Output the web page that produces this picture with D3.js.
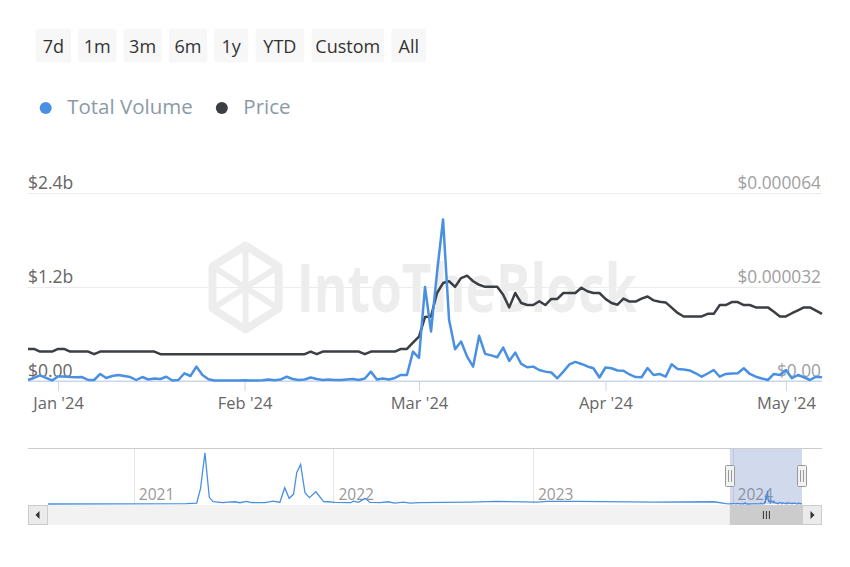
<!DOCTYPE html>
<html>
<head>
<meta charset="utf-8">
<title>Total Volume and Price</title>
<script src="https://cdn.jsdelivr.net/npm/d3@7"></script>
<style>
body { margin: 0; background: #fff; font-family: 'Open Sans', sans-serif; }
svg { display: block; }
</style>
</head>
<body>
<div id="chart"></div>
<script>

// ---- data ----
var rangeButtons = ["7d", "1m", "3m", "6m", "1y", "YTD", "Custom", "All"];
var seriesNames = ["Total Volume", "Price"];

// one value per day, starting 2023-12-27
var firstDay = "2023-12-27";

// total volume, millions of USD
var volumeM = [
  9, 35, 67, 35, 3, 54, 54, 47, 44, 47,
  9, 9, 86, 35, 60, 73, 60, 47, 9, 47,
  15, 28, 22, 51, 3, 9, 95, 60, 180, 73,
  18, 3, 3, 3, 3, 3, 5, 3, 3, 5,
  15, 5, 15, 51, 22, 9, 15, 41, 22, 9,
  15, 9, 9, 15, 22, 9, 28, 116, 15, 28,
  15, 35, 73, 73, 372, 291, 1199, 629, 1382, 2062,
  779, 403, 501, 308, 180, 574, 343, 324, 300, 424,
  253, 359, 214, 172, 180, 137, 116, 105, 31, 116,
  208, 240, 214, 182, 159, 41, 169, 159, 131, 128,
  80, 47, 44, 163, 73, 86, 51, 210, 150, 144,
  131, 95, 51, 92, 137, 51, 86, 92, 95, 159,
  86, 51, 28, 9, 86, 73, 137, 31, 73, 44,
  9, 51, 44
];

// price, millionths of USD
var priceU = [
  10.85, 10.85, 9.92, 9.92, 9.92, 10.85, 10.85, 9.92, 9.92, 9.92,
  9.92, 9.03, 9.92, 9.92, 9.92, 9.92, 9.92, 9.92, 9.92, 9.92,
  9.92, 9.92, 9.03, 9.03, 9.03, 9.03, 9.03, 9.03, 9.03, 9.03,
  9.03, 9.03, 9.03, 9.03, 9.03, 9.03, 9.03, 9.03, 9.03, 9.03,
  9.03, 9.03, 9.03, 9.03, 9.03, 9.03, 9.03, 9.92, 9.03, 9.92,
  9.92, 9.92, 9.92, 9.92, 9.92, 9.92, 9.03, 9.92, 9.92, 9.92,
  9.92, 9.92, 10.85, 10.85, 13.0, 15.06, 21.7, 21.9, 29.9, 33.3,
  33.9, 32.0, 35.0, 35.8, 33.9, 32.7, 32.0, 32.0, 32.0, 29.3,
  25.0, 29.9, 26.5, 25.8, 25.8, 27.1, 25.8, 27.9, 27.9, 29.9,
  29.9, 29.9, 31.7, 30.5, 29.9, 29.9, 27.9, 26.5, 25.9, 28.0,
  27.0, 27.0, 28.0, 28.7, 27.4, 26.9, 26.7, 24.9, 23.1, 21.9,
  21.9, 21.9, 21.9, 22.8, 22.8, 25.8, 25.8, 26.8, 26.8, 25.8,
  25.8, 25.0, 25.0, 25.0, 23.5, 21.9, 21.9, 23.0, 24.0, 25.0,
  25.0, 23.9, 22.8
];

// longer volume history shown in the navigator, billions of USD
var historyDates = [
  "2020-07-28", "2021-04-07", "2021-04-26", "2021-05-03", "2021-05-11", "2021-05-19",
  "2021-05-26", "2021-06-04", "2021-06-13", "2021-06-22", "2021-07-05", "2021-07-14",
  "2021-07-26", "2021-08-04", "2021-08-29", "2021-09-13", "2021-09-25", "2021-10-04",
  "2021-10-12", "2021-10-20", "2021-10-26", "2021-11-02", "2021-11-10", "2021-11-18",
  "2021-11-30", "2021-12-14", "2021-12-23", "2022-01-04", "2022-02-01", "2022-02-07",
  "2022-02-16", "2022-02-28", "2022-03-09", "2022-03-27", "2022-04-11", "2022-04-23",
  "2022-05-09", "2022-05-21", "2022-06-08", "2022-09-08", "2022-10-27", "2023-01-08",
  "2023-01-27", "2023-03-19", "2023-08-10", "2023-11-28", "2023-12-20"
];
var historyVolumeB = [
  0, 0.05, 0.15, 2.43, 7.95, 1.04,
  0.36, 0.3, 0.2, 0.3, 0.35, 0.2,
  0.4, 0.2, 0.2, 0.45, 0.25, 2.53,
  0.88, 1.5, 4.91, 6.15, 1.75, 0.98,
  1.9, 0.36, 0.35, 0.25, 0.2, 0.45,
  0.25, 0.88, 0.25, 0.2, 0.35, 0.15,
  0.3, 0.15, 0.2, 0.3, 0.4, 0.3,
  0.4, 0.4, 0.3, 0.35, 0.05
];

var leftTicks = [0, 1.2e9, 2.4e9];
var leftTickLabels = ["$0.00", "$1.2b", "$2.4b"];
var rightTicks = [0, 32e-6, 64e-6];
var rightTickLabels = ["$0.00", "$0.000032", "$0.000064"];
var monthTicks = ["2024-01-01", "2024-02-01", "2024-03-01", "2024-04-01", "2024-05-01"];
var yearTicks = ["2021-01-01", "2022-01-01", "2023-01-01", "2024-01-01"];

// ---- layout ----
var width = 850, height = 567;
var plotLeft = 28, plotRight = 822, plotTop = 193, plotBottom = 380.7;
var navTop = 448, navBottom = 504, scrollTop = 505, scrollBottom = 525, btnW = 20;
var blue = "#4a90e2", dark = "#3b3f43";
var buttonWidths = [35.3, 38, 38, 38, 34, 48.7, 72.6, 34.7];

var parse = d3.utcParse("%Y-%m-%d");
var start = parse(firstDay);
var days = volumeM.map(function(v, i) { return d3.utcDay.offset(start, i); });
var main = days.map(function(d, i) { return {date: d, vol: volumeM[i] * 1e6, price: priceU[i] * 1e-6}; });
var nav = historyDates.map(function(s, i) { return {date: parse(s), vol: historyVolumeB[i] * 1e9}; })
  .concat(main.map(function(d) { return {date: d.date, vol: d.vol}; }));

var svg = d3.select("#chart").append("svg")
  .attr("width", width)
  .attr("height", height);

// range buttons
var bx = 35.7;
var btns = svg.append("g").attr("class", "buttons");
rangeButtons.forEach(function(label, i) {
  var w = buttonWidths[i];
  btns.append("rect")
    .attr("x", bx).attr("y", 28.5)
    .attr("width", w).attr("height", 34)
    .attr("rx", 2)
    .style("fill", "#f7f7f7");
  btns.append("text")
    .attr("x", bx + w / 2).attr("y", 52.5)
    .attr("text-anchor", "middle")
    .style("font-size", "18px")
    .style("fill", "#333")
    .text(label);
  bx += w + 7.3;
});

// legend
var legend = svg.append("g");
var lx = 45.7;
[blue, dark].forEach(function(c, i) {
  legend.append("circle").attr("cx", lx).attr("cy", 108).attr("r", 6).style("fill", c);
  var t = legend.append("text")
    .attr("x", lx + 21.5).attr("y", 113.5)
    .style("font-size", "20.5px")
    .style("fill", "#8c9aa6")
    .text(seriesNames[i]);
  lx += 21.5 + t.node().getComputedTextLength() + 29;
});

// scales
var x = d3.scaleUtc()
  .domain([start, days[days.length - 1]])
  .range([plotLeft, plotRight]);
var yVol = d3.scaleLinear().domain([0, 2.4e9]).range([plotBottom, plotTop]);
var yPrice = d3.scaleLinear().domain([0, 64e-6]).range([plotBottom, plotTop]);

// grid
svg.append("g").selectAll("line")
  .data(leftTicks.slice(1))
  .enter().append("line")
  .attr("x1", plotLeft).attr("x2", plotRight)
  .attr("y1", function(d) { return Math.round(yVol(d)) + 0.5; })
  .attr("y2", function(d) { return Math.round(yVol(d)) + 0.5; })
  .style("stroke", "#ececec");

// watermark
var wm = svg.append("g");
var hx = 245.5, hy = 287.5, hr = 42, hw = 33;
var hex = d3.range(6).map(function(k) {
  var a = Math.PI / 3 * k - Math.PI / 2;
  return [hx + hw * Math.cos(a) / Math.cos(Math.PI / 6), hy + hr * Math.sin(a)];
});
wm.append("polygon")
  .attr("points", hex.map(function(p) { return p.join(","); }).join(" "))
  .style("fill", "none").style("stroke", "#ededed").style("stroke-width", 8)
  .style("stroke-linejoin", "round");
wm.append("path")
  .attr("d", "M" + hex[5] + "L" + hex[2] + "M" + hex[1] + "L" + hex[4] +
    "M" + hex[0] + "L" + hx + "," + hy + "L" + hex[3])
  .style("fill", "none").style("stroke", "#ededed").style("stroke-width", 6);
wm.append("text")
  .attr("x", 296.7).attr("y", 311.7)
  .attr("textLength", 340).attr("lengthAdjust", "spacingAndGlyphs")
  .style("font-size", "66px").style("font-weight", "bold")
  .style("fill", "#ededed")
  .text("IntoTheBlock");

// axis labels
svg.append("g").selectAll("text")
  .data(leftTicks)
  .enter().append("text")
  .attr("x", plotLeft)
  .attr("y", function(d) { return yVol(d) - 4; })
  .style("font-size", "17.5px").style("fill", "#666")
  .text(function(d, i) { return leftTickLabels[i]; });

svg.append("g").selectAll("text")
  .data(rightTicks)
  .enter().append("text")
  .attr("x", plotRight - 1)
  .attr("y", function(d) { return yPrice(d) - 4; })
  .attr("text-anchor", "end")
  .style("font-size", "17.3px").style("fill", "#a0a0a0")
  .text(function(d, i) { return rightTickLabels[i]; });

// x axis
var xAxis = svg.append("g")
  .attr("transform", "translate(0," + (plotBottom + 0.5) + ")")
  .call(d3.axisBottom(x)
    .tickValues(monthTicks.map(parse))
    .tickSize(10)
    .tickPadding(6)
    .tickFormat(d3.utcFormat("%b '%y")));
xAxis.select(".domain").attr("d", "M" + plotLeft + ",0H" + plotRight).style("stroke", "#ccd6eb").style("stroke-width", 1.5);
xAxis.selectAll(".tick line").style("stroke", "#ccd6eb");
xAxis.selectAll(".tick text").style("font-size", "16.5px").style("fill", "#666").style("font-family", "'Open Sans', sans-serif");

// lines
var priceLine = d3.line().x(function(d) { return x(d.date); }).y(function(d) { return yPrice(d.price); });
var volLine = d3.line().x(function(d) { return x(d.date); }).y(function(d) { return yVol(d.vol); });

svg.append("path").datum(main)
  .attr("d", priceLine)
  .style("fill", "none").style("stroke", dark).style("stroke-width", 2.5).style("stroke-linejoin", "round");
svg.append("path").datum(main)
  .attr("d", volLine)
  .style("fill", "none").style("stroke", blue).style("stroke-width", 2.5).style("stroke-linejoin", "round");

// navigator
var navLeft = plotLeft + btnW, navRight = plotRight - btnW;
var xNav = d3.scaleUtc()
  .domain([nav[0].date, days[days.length - 1]])
  .range([navLeft, navRight]);
var yNav = d3.scaleLinear().domain([0, 8.7e9]).range([navBottom, navTop]);

svg.append("line")
  .attr("x1", plotLeft).attr("x2", plotRight)
  .attr("y1", navTop + 0.5).attr("y2", navTop + 0.5)
  .style("stroke", "#cccccc");

var navG = svg.append("g");
navG.selectAll("line.year")
  .data(yearTicks.map(parse))
  .enter().append("line")
  .attr("x1", function(d) { return Math.round(xNav(d)) + 0.5; })
  .attr("x2", function(d) { return Math.round(xNav(d)) + 0.5; })
  .attr("y1", navTop + 1).attr("y2", navBottom)
  .style("stroke", "#e6e6e6");
navG.selectAll("text.year")
  .data(yearTicks.map(parse))
  .enter().append("text")
  .attr("x", function(d) { return xNav(d) + 5; })
  .attr("y", navBottom - 4.5)
  .style("font-size", "15.5px").style("fill", "#999")
  .text(d3.utcFormat("%Y"));

navG.append("path").datum(nav)
  .attr("d", d3.line().x(function(d) { return xNav(d.date); }).y(function(d) { return yNav(d.vol); }))
  .style("fill", "none").style("stroke", blue).style("stroke-width", 1.3);

var selL = xNav(start), selR = xNav(days[days.length - 1]);
navG.append("rect")
  .attr("x", selL).attr("y", navTop + 1)
  .attr("width", selR - selL).attr("height", navBottom - navTop - 1)
  .style("fill", "rgba(102,133,194,0.3)");

// scrollbar
var sb = svg.append("g");
sb.append("rect")
  .attr("x", plotLeft).attr("y", scrollTop)
  .attr("width", plotRight - plotLeft).attr("height", scrollBottom - scrollTop)
  .style("fill", "#f2f2f2");
sb.append("rect")
  .attr("x", selL).attr("y", scrollTop)
  .attr("width", selR - selL).attr("height", scrollBottom - scrollTop)
  .style("fill", "#cccccc");
[0, 1, 2].forEach(function(k) {
  var cx = (selL + selR) / 2 - 3 + k * 3;
  sb.append("line")
    .attr("x1", cx + 0.5).attr("x2", cx + 0.5)
    .attr("y1", scrollTop + 6).attr("y2", scrollTop + 14)
    .style("stroke", "#333");
});
[plotLeft, plotRight - btnW].forEach(function(bxx, k) {
  sb.append("rect")
    .attr("x", bxx + 0.5).attr("y", scrollTop + 0.5)
    .attr("width", btnW - 1).attr("height", scrollBottom - scrollTop - 1)
    .style("fill", "#ebebeb").style("stroke", "#cccccc");
  var c = bxx + btnW / 2, m = (scrollTop + scrollBottom) / 2;
  sb.append("path")
    .attr("d", k === 0
      ? "M" + (c + 1.5) + "," + (m - 4) + "L" + (c - 2.5) + "," + m + "L" + (c + 1.5) + "," + (m + 4) + "Z"
      : "M" + (c - 1.5) + "," + (m - 4) + "L" + (c + 2.5) + "," + m + "L" + (c - 1.5) + "," + (m + 4) + "Z")
    .style("fill", "#333");
});

// navigator handles
[selL, selR].forEach(function(hxp) {
  var g = svg.append("g");
  g.append("rect")
    .attr("x", Math.round(hxp) - 4.5).attr("y", 465.5)
    .attr("width", 9).attr("height", 21)
    .attr("rx", 1)
    .style("fill", "#f2f2f2").style("stroke", "#999");
  [-1.5, 1.5].forEach(function(o) {
    g.append("line")
      .attr("x1", Math.round(hxp) + o).attr("x2", Math.round(hxp) + o)
      .attr("y1", 470).attr("y2", 482)
      .style("stroke", "#999");
  });
});

</script>
</body>
</html>
